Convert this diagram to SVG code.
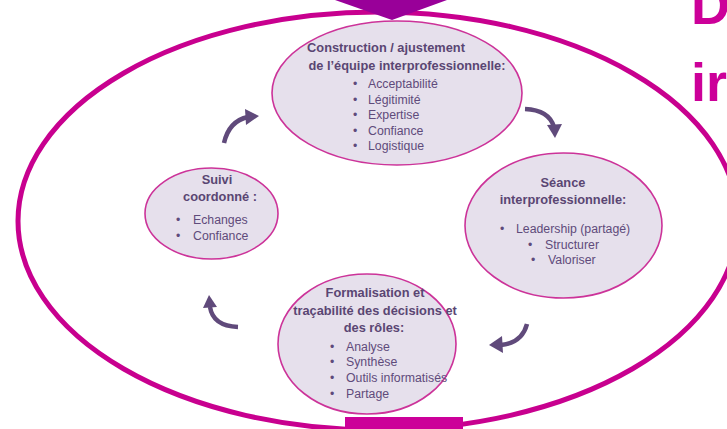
<svg xmlns="http://www.w3.org/2000/svg" width="727" height="429" viewBox="0 0 727 429">
<style>
.node{fill:#E6E0EC;stroke:#CC3399;stroke-width:1.6}
.t{font-family:"Liberation Sans",Arial,sans-serif;fill:#5F4B7B}
.h{font-size:12.8px;font-weight:bold;text-anchor:middle;fill:#5A4673}
.b{font-size:12.3px}
.arr{fill:none;stroke:#604A7B;stroke-width:4.5}
.head{fill:#604A7B}
.title{font-family:"Liberation Sans",Arial,sans-serif;font-weight:bold;font-size:54px;fill:#CC0099}
</style>
<rect width="727" height="429" fill="#ffffff"/>
<g id="frame">
<ellipse cx="378" cy="221" rx="360" ry="209" fill="none" stroke="#C8008F" stroke-width="5"/>
<polygon points="335,0 447,0 392,20" fill="#990099"/>
<rect x="345" y="417" width="118" height="12" fill="#CC0099"/>
</g>
<text class="title" x="691" y="24">D</text>
<text class="title" x="691" y="101">ir</text>
<g id="connectors">
<path class="arr" d="M224,143 Q229,121 248,117"/>
<polygon class="head" points="245,109 259,116 246,125"/>
<path class="arr" d="M525,109 Q549,110 554,127"/>
<polygon class="head" points="547,125 562,124 555,138"/>
<path class="arr" d="M527,324 Q522,343 501,345"/>
<polygon class="head" points="502,336 489,345 503,353"/>
<path class="arr" d="M238,327 Q213,326 210,307"/>
<polygon class="head" points="203,308 217,307 209,295"/>
</g>
<g id="node-construction">
<ellipse class="node" cx="397" cy="93" rx="125" ry="72"/>
<text class="t h" x="386" y="52">Construction / ajustement</text>
<text class="t h" x="407" y="70">de l’équipe interprofessionnelle:</text>
<g class="t b">
<text x="353" y="88">•</text><text x="368" y="88">Acceptabilité</text>
<text x="353" y="104">•</text><text x="368" y="104">Légitimité</text>
<text x="353" y="119">•</text><text x="368" y="119">Expertise</text>
<text x="353" y="135">•</text><text x="368" y="135">Confiance</text>
<text x="353" y="150">•</text><text x="368" y="150">Logistique</text>
</g>
</g>
<g id="node-seance">
<ellipse class="node" cx="563.5" cy="225.5" rx="98.5" ry="72.5"/>
<text class="t h" x="563" y="187">Séance</text>
<text class="t h" x="563" y="204">interprofessionnelle:</text>
<g class="t b">
<text x="500" y="233">•</text><text x="516" y="233">Leadership (partagé)</text>
<text x="528" y="249">•</text><text x="545" y="249">Structurer</text>
<text x="531" y="264">•</text><text x="548" y="264">Valoriser</text>
</g>
</g>
<g id="node-suivi">
<ellipse class="node" cx="211.5" cy="213.5" rx="66.5" ry="45.5"/>
<text class="t h" x="217" y="184">Suivi</text>
<text class="t h" x="220" y="201">coordonné :</text>
<g class="t b">
<text x="176" y="224">•</text><text x="193" y="224">Echanges</text>
<text x="176" y="240">•</text><text x="193" y="240">Confiance</text>
</g>
</g>
<g id="node-formalisation">
<ellipse class="node" cx="367" cy="344" rx="89" ry="70"/>
<text class="t h" x="375" y="297">Formalisation et</text>
<text class="t h" x="375" y="315">traçabilité des décisions et</text>
<text class="t h" x="374" y="332">des rôles:</text>
<g class="t b">
<text x="330" y="351">•</text><text x="346" y="351">Analyse</text>
<text x="330" y="366">•</text><text x="346" y="366">Synthèse</text>
<text x="330" y="382">•</text><text x="346" y="382">Outils informatisés</text>
<text x="330" y="398">•</text><text x="346" y="398">Partage</text>
</g>
</g>
</svg>
